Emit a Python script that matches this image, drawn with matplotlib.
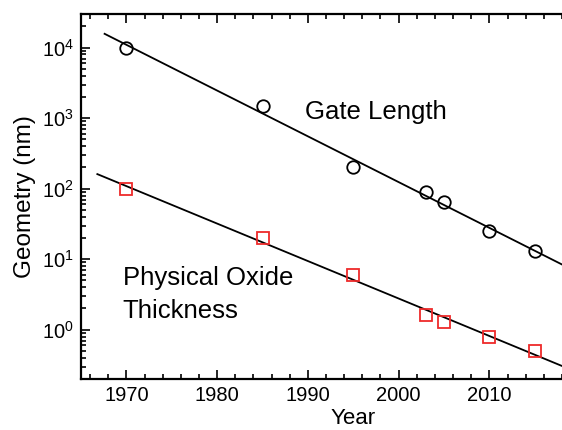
import numpy as np
import matplotlib
matplotlib.use("Agg")
import matplotlib.pyplot as plt
from matplotlib.ticker import LogLocator, MultipleLocator, NullFormatter

plt.rcParams['font.family'] = ['Liberation Sans', 'DejaVu Sans']
plt.rcParams['mathtext.fontset'] = 'custom'
plt.rcParams['mathtext.rm'] = 'Liberation Sans'
plt.rcParams['mathtext.it'] = 'Liberation Sans:italic'
plt.rcParams['mathtext.bf'] = 'Liberation Sans:bold'

# Data
gate_years = [1970, 1985, 1995, 2003, 2005, 2010, 2015]
gate_nm = [10000, 1500, 200, 90, 65, 25, 13]
oxide_years = [1970, 1985, 1995, 2003, 2005, 2010, 2015]
oxide_nm = [100, 20, 6, 1.6, 1.3, 0.8, 0.5]
gate_fit_range = [1967.6, 2018.5]
oxide_fit_range = [1966.8, 2018.5]
xticks = [1970, 1980, 1990, 2000, 2010]

fig = plt.figure(figsize=(5.62, 4.30), dpi=100)
ax = fig.add_axes([81/562, 1-379/430, 1-81/562, (379-14)/430])

def fit_line(xs, ys, rng):
    p = np.polyfit(xs, np.log10(ys), 1)
    xx = np.array(rng)
    return xx, 10**np.polyval(p, xx)

gx, gy = fit_line(gate_years, gate_nm, gate_fit_range)
ox, oy = fit_line(oxide_years, oxide_nm, oxide_fit_range)
ax.plot(gx, gy, color='black', lw=1.3)
ax.plot(ox, oy, color='black', lw=1.3)
ax.plot(gate_years, gate_nm, 'o', ms=9, mfc='none', mec='black', mew=1.3)
ax.plot(oxide_years, oxide_nm, 's', ms=9, mfc='none', mec='#ee2a2a', mew=1.3)

ax.set_yscale('log')
ax.set_xlim(1965, 2018)
ax.set_ylim(0.2, 3e4)
ax.set_xticks(xticks)
ax.xaxis.set_minor_locator(MultipleLocator(2))
ax.yaxis.set_major_locator(LogLocator(base=10, numticks=10))
ax.yaxis.set_minor_locator(LogLocator(base=10, subs=np.arange(2, 10), numticks=20))
ax.yaxis.set_minor_formatter(NullFormatter())

for s in ['left', 'bottom', 'top']:
    ax.spines[s].set_linewidth(1.6)
ax.spines['right'].set_visible(False)
ax.tick_params(which='both', direction='in', top=True, right=False, labelsize=14.5, width=1.2)
ax.tick_params(which='major', length=6.5)
ax.tick_params(which='minor', length=3.5)
ax.tick_params(axis='x', pad=5)
ax.tick_params(axis='y', pad=5)

ax.set_xlabel('Year', fontsize=16)
ax.xaxis.set_label_coords((353-81)/481, (379-418)/365)
ax.xaxis.label.set_va('center')
ax.set_ylabel('Geometry (nm)', fontsize=17.5)
ax.yaxis.set_label_coords((25-81)/481, 0.5)
ax.yaxis.label.set_va('center')

ax.text(1989.7, 984, 'Gate Length', fontsize=18.5, ha='left', va='baseline')
ax.text(1969.6, 4.27, 'Physical Oxide', fontsize=18.5, ha='left', va='baseline')
ax.text(1969.6, 1.47, 'Thickness', fontsize=18.5, ha='left', va='baseline')

fig.savefig('out.png', dpi=100)
